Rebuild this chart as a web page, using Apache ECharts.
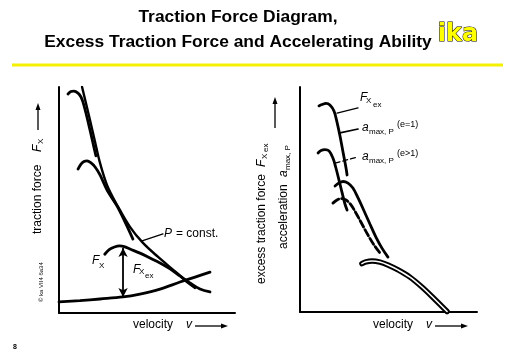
<!DOCTYPE html>
<html><head><meta charset="utf-8">
<script src="https://cdn.jsdelivr.net/npm/echarts@6/dist/echarts.min.js"></script>
<style>html,body{margin:0;padding:0;background:#fff}#c{width:512px;height:354px}</style>
</head><body><div id="c"></div>
<script>
// ---- Left panel: traction force diagram (velocity, traction force; schematic 0-100 units)
const gear1 = [[5.1,96.9],[6.8,98.0],[8.5,98.2],[10.8,97.3],[12.5,95.6],[13.6,93.4],[15.3,88.5],[17.6,81.0],[19.3,75.2],[21.0,69.5]];
const gear2 = [[10.8,63.7],[12.5,65.9],[14.2,67.0],[15.9,67.3],[18.2,66.4],[20.5,64.6],[23.3,61.1],[27.3,54.4],[33.0,47.3],[37.5,40.3],[42.0,32.7]];
const gear3 = [[26.0,26.0],[28.5,28.0],[31.5,29.2],[34.5,29.7],[37.0,29.4],[40.3,28.3],[46.0,26.5],[51.7,24.3],[57.4,22.1],[63.1,19.5],[68.75,16.4],[74.4,13.3],[80.1,10.6],[85.8,9.3]];
const powerHyperbola = [[13.1,100],[15.3,92.9],[17.6,85.4],[20.5,75.7],[23.3,66.4],[27.3,56.6],[33.0,47.8],[40.3,38.1],[47.7,31.0],[56.3,24.8],[67.0,17.7],[73.3,13.3],[77.3,11.1]];
const resistance = [[0,4.9],[11.9,5.5],[23.3,6.2],[36.4,7.1],[46.0,8.4],[57.4,10.6],[68.75,13.7],[77.3,15.9],[85.8,18.1]];
const excessArrow = [[36.4,28.8],[36.4,7.1]];
const pConstLeader = [[47.2,31.9],[59.1,35.0]];

// ---- Right panel: excess traction force / acceleration
const fxEx1 = [[10.7,91.6],[12.4,92.2],[14.7,92.7],[16.9,92.0],[19.2,89.3],[20.9,84.4],[22.6,78.2],[24.3,71.1],[26.0,64.0],[26.6,60.9]];
const aMax1 = [[10.2,70.7],[11.9,71.8],[14.1,72.2],[16.4,71.6],[18.6,68.4],[20.3,64.0],[22.0,58.7],[23.7,53.3],[25.4,48.0],[26.6,45.3]];
const fxEx2 = [[19.8,56.0],[22.0,57.3],[24.3,58.0],[27.1,57.3],[29.9,55.1],[32.8,50.7],[36.2,44.9],[39.5,39.1],[42.9,33.3],[46.3,28.4],[49.7,24.4]];
const aMax2 = [[18.6,48.4],[20.9,49.8],[23.2,50.4],[26.0,49.8],[28.8,47.6],[31.6,44.0],[35.0,39.1],[38.4,34.2],[41.8,29.8],[45.2,26.2]];
const gear3Ex = [[35.0,21.5],[37.3,22.3],[40.7,22.7],[45.2,22.2],[49.7,20.9],[55.4,18.7],[62.1,15.5],[68.9,11.1],[75.7,6.0],[83.1,0.2]];
const leaderFx = [[20.9,88.4],[32.8,90.7]];
const leaderA1 = [[22.6,79.6],[32.8,81.3]];
const leaderA2 = [[19.8,66.2],[32.8,68.9]];

const FONT = "'Liberation Sans', Arial, sans-serif";
const chart = echarts.init(document.getElementById('c'), null, {renderer:'canvas'});

function curve(data, xi, opts) {
  opts = opts || {};
  return {
    type:'line', xAxisIndex:xi, yAxisIndex:xi, data:data, symbol:'none',
    smooth: opts.smooth === undefined ? 0.35 : opts.smooth, silent:true, z: opts.z || 2,
    lineStyle:{color: opts.color || '#000', width: opts.width || 2.8, type: opts.type || 'solid', cap:'round'},
    markLine: opts.markLine
  };
}

function txt(x, y, s, o) {
  o = o || {};
  return {type:'text', x:x, y:y, style:{text:s, fill:'#000', font:(o.style||'normal')+' '+(o.weight||'normal')+' '+(o.size||12)+'px '+FONT, align:o.align||'left', verticalAlign:o.va||'middle'}};
}
function arrowH(x1, y, x2) { // arrow pointing right
  return [
    {type:'line', shape:{x1:x1, y1:y, x2:x2-5, y2:y}, style:{stroke:'#000', lineWidth:1.3}},
    {type:'polygon', shape:{points:[[x2,y],[x2-7,y-2.5],[x2-7,y+2.5]]}, style:{fill:'#000'}}
  ];
}
// rotated label group (reads bottom to top); origin = bottom end on screen
function vlabel(x, y, children) {
  return {type:'group', x:x, y:y, rotation:Math.PI/2, children:children};
}

const graphic = [
  txt(238, 17, 'Traction Force Diagram,', {weight:'bold', size:17.4, align:'center'}),
  txt(238, 42, 'Excess Traction Force and Accelerating Ability', {weight:'bold', size:17.4, align:'center'}),
  {type:'text', x:458, y:35, style:{text:'ika', font:"bold 24px 'DejaVu Sans', sans-serif", fill:'#ffff00', stroke:'#000', lineWidth:1, align:'center', verticalAlign:'middle'}},
  {type:'line', shape:{x1:12, y1:65, x2:503, y2:65}, style:{stroke:'#f4f000', lineWidth:3}},
  txt(15, 347, '8', {weight:'bold', size:7, align:'center'}),

  // left y label
  vlabel(38, 234, [
    txt(0, 0, 'traction force', {}),
    txt(82, 0, 'F', {style:'italic'}),
    txt(90, 3, 'X', {size:8}),
    {type:'line', shape:{x1:104, y1:0, x2:126, y2:0}, style:{stroke:'#000', lineWidth:1.3}},
    {type:'polygon', shape:{points:[[131,0],[124,-2.5],[124,2.5]]}, style:{fill:'#000'}}
  ]),
  vlabel(41, 302, [ txt(0, 0, '\u00A9 ka VII4 6a34', {size:6}) ]),

  // left x label
  txt(133, 325, 'velocity', {}),
  txt(186, 325, 'v', {style:'italic'}),
  ...arrowH(195, 326, 228),

  // left plot labels
  txt(164, 234, 'P', {style:'italic'}),
  txt(176, 234, '= const.', {}),
  txt(92, 261, 'F', {style:'italic'}),
  txt(99, 266, 'X', {size:8}),
  txt(133, 270, 'F', {style:'italic'}),
  txt(139, 272, 'X', {size:8}),
  txt(145, 276, 'ex', {size:8}),

  // right y labels
  vlabel(262, 284, [
    txt(0, 0, 'excess traction force', {}),
    txt(117, 0, 'F', {style:'italic'}),
    txt(125, 3, 'X', {size:8}),
    txt(132, 4, 'ex', {size:8})
  ]),
  vlabel(275, 128, [
    {type:'line', shape:{x1:0, y1:0, x2:26, y2:0}, style:{stroke:'#000', lineWidth:1.3}},
    {type:'polygon', shape:{points:[[31,0],[24,-2.5],[24,2.5]]}, style:{fill:'#000'}}
  ]),
  vlabel(284, 249, [
    txt(0, 0, 'acceleration', {}),
    txt(72, 0, 'a', {style:'italic'}),
    txt(79, 4, 'max, P', {size:8})
  ]),

  // right x label
  txt(373, 325, 'velocity', {}),
  txt(426, 325, 'v', {style:'italic'}),
  ...arrowH(435, 326, 468),

  // right plot labels
  txt(360, 98, 'F', {style:'italic'}),
  txt(366, 101, 'X', {size:8}),
  txt(373, 105, 'ex', {size:8}),
  txt(362, 128, 'a', {style:'italic'}),
  txt(369, 132, 'max, P', {size:8}),
  txt(397, 125, '(e=1)', {size:9}),
  txt(362, 157, 'a', {style:'italic'}),
  txt(369, 161, 'max, P', {size:8}),
  txt(397, 154, '(e>1)', {size:9})
];

const axisCommon = {type:'value', min:0, max:100, axisLine:{show:true, lineStyle:{color:'#000', width:2}}, axisTick:{show:false}, axisLabel:{show:false}, splitLine:{show:false}};

chart.setOption({
  animation:false,
  backgroundColor:'#fff',
  grid:[
    {left:59, top:87, width:176, height:226},
    {left:300, top:87, width:177, height:225}
  ],
  xAxis:[Object.assign({gridIndex:0}, axisCommon), Object.assign({gridIndex:1}, axisCommon)],
  yAxis:[Object.assign({gridIndex:0}, axisCommon), Object.assign({gridIndex:1}, axisCommon)],
  series:[
    curve(gear1, 0),
    curve(gear2, 0),
    curve(gear3, 0),
    curve(powerHyperbola, 0, {width:2.4}),
    curve(resistance, 0, {markLine:{
      silent:true, symbol:['arrow','arrow'], symbolSize:[7,9], animation:false,
      label:{show:false}, lineStyle:{color:'#000', width:1.8, type:'solid'},
      data:[[{coord:excessArrow[0]},{coord:excessArrow[1]}]]
    }}),
    curve(pConstLeader, 0, {width:1.3, smooth:false}),
    curve(fxEx1, 1),
    curve(aMax1, 1),
    curve(fxEx2, 1),
    curve(aMax2, 1, {type:[7,3]}),
    curve(gear3Ex, 1, {width:5.5}),
    curve(gear3Ex, 1, {width:1.6, color:'#fff', z:3}),
    curve(leaderFx, 1, {width:1.3, smooth:false}),
    curve(leaderA1, 1, {width:1.6, smooth:false}),
    curve(leaderA2, 1, {width:1.3, smooth:false, type:[5,3]})
  ],
  graphic: graphic
});
</script></body></html>
